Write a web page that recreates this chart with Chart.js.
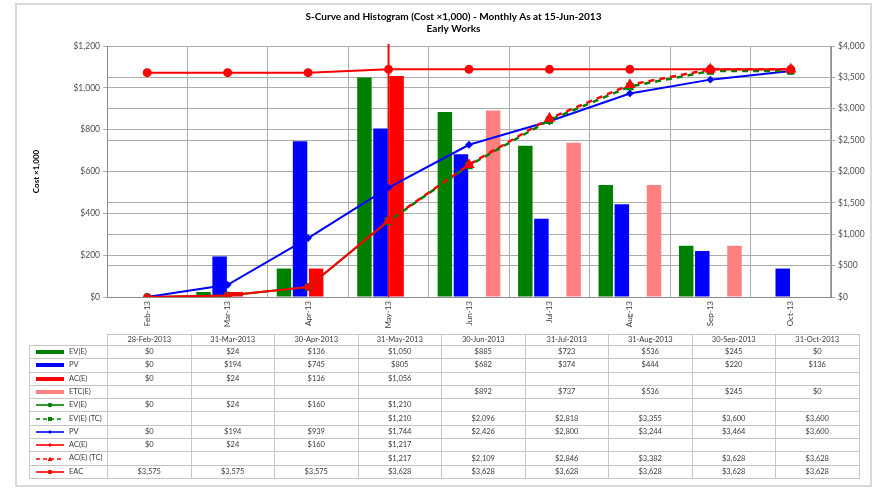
<!DOCTYPE html>
<html>
<head>
<meta charset="utf-8">
<script src="https://cdn.jsdelivr.net/npm/chart.js@4.4.0/dist/chart.umd.min.js"></script>
<style>
  html, body { margin: 0; padding: 0; background: #fff; }
  #wrap { position: relative; width: 877px; height: 489px; overflow: hidden; font-family: Lato, "Open Sans", sans-serif; }
  #frame { position: absolute; left: 15px; top: 3px; width: 857px; height: 484px; border: 2px solid #d9d9d9; box-sizing: border-box; }
  #chart { position: absolute; left: 0; top: 0; }
  table.data { position: absolute; left: 29px; top: 334px; border-collapse: collapse; table-layout: fixed; font-size: 7.5px; color: #3a3a3a; }
  table.data td { border: 1px solid #c6c6c6; padding: 0; text-align: center; white-space: nowrap; overflow: hidden; line-height: 10px; }
  table.data tr.head td { height: 10px; }
  table.data tr.row td { height: 12.3px; }
  table.data td.blank { border-top: none; border-left: none; }
  table.data td.key { text-align: left; padding-left: 3px; }
  table.data td.key svg { vertical-align: middle; margin-right: 2px; }
</style>
</head>
<body>
<div id="wrap">
  <div id="frame"></div>
  <canvas id="chart" width="877" height="335"></canvas>
  <table class="data" id="dataTable"></table>
</div>
<script>
// months on the x axis and the period end dates used in the table header
const months = ['Feb-13', 'Mar-13', 'Apr-13', 'May-13', 'Jun-13', 'Jul-13', 'Aug-13', 'Sep-13', 'Oct-13'];
const periodEnds = ['28-Feb-2013', '31-Mar-2013', '30-Apr-2013', '31-May-2013', '30-Jun-2013',
                    '31-Jul-2013', '31-Aug-2013', '30-Sep-2013', '31-Oct-2013'];

// monthly values (histogram, left axis)
const evMonthly  = [0, 24, 136, 1050, 885, 723, 536, 245, 0];
const pvMonthly  = [0, 194, 745, 805, 682, 374, 444, 220, 136];
const acMonthly  = [0, 24, 136, 1056, null, null, null, null, null];
const etcMonthly = [null, null, null, null, 892, 737, 536, 245, 0];

// cumulative values (S-curves, right axis)
const evCum   = [0, 24, 160, 1210, null, null, null, null, null];
const evCumTc = [null, null, null, 1210, 2096, 2818, 3355, 3600, 3600];
const pvCum   = [0, 194, 939, 1744, 2426, 2800, 3244, 3464, 3600];
const acCum   = [0, 24, 160, 1217, null, null, null, null, null];
const acCumTc = [null, null, null, 1217, 2109, 2846, 3382, 3628, 3628];
const eac     = [3575, 3575, 3575, 3628, 3628, 3628, 3628, 3628, 3628];

const dataDateIndex = 3; // last actuals month

const GREEN = '#008000', BLUE = '#0000ff', RED = '#ff0000', PINK = '#ff8080';
const FONT = 'Lato, "Open Sans", sans-serif';
const money = v => v === null || v === undefined ? '' : '$' + v.toLocaleString('en-US');

const lineBase = { type: 'line', yAxisID: 'y2', order: 0, borderWidth: 2, spanGaps: false, tension: 0 };

const datasets = [
  { ...lineBase, label: 'EAC', data: eac, borderColor: RED, backgroundColor: RED, pointStyle: 'circle', pointRadius: 3.5 },
  { ...lineBase, label: 'AC(E) (TC)', data: acCumTc, borderColor: RED, backgroundColor: RED, borderDash: [6, 5], borderWidth: 2.5, pointStyle: 'triangle', pointRadius: 4 },
  { ...lineBase, label: 'EV(E) (TC)', data: evCumTc, borderColor: GREEN, backgroundColor: GREEN, borderDash: [6, 5], borderDashOffset: 5, borderWidth: 2.5, pointStyle: 'rect', pointRadius: 3.5 },
  { ...lineBase, label: 'AC(E)', data: acCum, borderColor: RED, backgroundColor: RED, pointStyle: 'circle', pointRadius: 2.5 },
  { ...lineBase, label: 'PV', data: pvCum, borderColor: BLUE, backgroundColor: BLUE, pointStyle: 'rectRot', pointRadius: 2.5 },
  { ...lineBase, label: 'EV(E)', data: evCum, borderColor: GREEN, backgroundColor: GREEN, pointStyle: 'circle', pointRadius: 3 },
  { type: 'bar', label: 'EV(E)', data: evMonthly, backgroundColor: GREEN, yAxisID: 'y', order: 1 },
  { type: 'bar', label: 'PV', data: pvMonthly, backgroundColor: BLUE, yAxisID: 'y', order: 1 },
  { type: 'bar', label: 'AC(E)', data: acMonthly, backgroundColor: RED, yAxisID: 'y', order: 1 },
  { type: 'bar', label: 'ETC(E)', data: etcMonthly, backgroundColor: PINK, yAxisID: 'y', order: 1 }
];

const gridColor = '#adadad';
const tickFont = { family: FONT, size: 8.5 };

// vertical red line through the last actuals month
const dataDateLine = {
  id: 'dataDateLine',
  beforeDatasetsDraw(chart) {
    const { ctx, chartArea, scales } = chart;
    const x = scales.x.getPixelForValue(dataDateIndex);
    ctx.save();
    ctx.strokeStyle = RED;
    ctx.lineWidth = 2;
    ctx.beginPath();
    ctx.moveTo(x, chartArea.top - 2);
    ctx.lineTo(x, chartArea.bottom);
    ctx.stroke();
    ctx.restore();
  }
};

new Chart(document.getElementById('chart').getContext('2d'), {
  data: { labels: months, datasets },
  options: {
    responsive: false,
    animation: false,
    layout: { padding: { left: 30, right: 0, top: 0, bottom: 0 } },
    datasets: { bar: { categoryPercentage: 0.8, barPercentage: 0.9 } },
    plugins: {
      legend: { display: false },
      tooltip: { enabled: false },
      title: {
        display: true,
        text: ['S-Curve and Histogram (Cost \u00d71,000) - Monthly As at 15-Jun-2013', 'Early Works'],
        color: '#000',
        font: { family: FONT, size: 10, weight: 'bold', lineHeight: 1.15 },
        padding: { top: 11.3, bottom: 11.7 }
      }
    },
    scales: {
      x: {
        grid: { color: gridColor, drawTicks: false },
        border: { color: '#8c8c8c' },
        ticks: { minRotation: 90, maxRotation: 90, padding: 4, color: '#404040', font: { family: FONT, size: 8 } },
        afterFit(s) { s.height = 38; }
      },
      y: {
        position: 'left',
        min: 0, max: 1200,
        ticks: { stepSize: 200, padding: 3, color: '#505050', font: tickFont, callback: v => money(v) },
        grid: { color: gridColor, tickLength: 4 },
        border: { color: '#8c8c8c' },
        title: { display: true, text: 'Cost \u00d71,000', color: '#000', font: { family: FONT, size: 8, weight: 'bold' }, padding: { top: 2, bottom: 0 } },
        afterFit(s) { s.width = 77; }
      },
      y2: {
        position: 'right',
        min: 0, max: 4000,
        ticks: { stepSize: 500, padding: 3, color: '#505050', font: tickFont, callback: v => money(v) },
        grid: { color: gridColor, tickLength: 4 },
        border: { color: '#8c8c8c' },
        afterFit(s) { s.width = 46; }
      }
    }
  },
  plugins: [dataDateLine]
});

// data table under the chart
const tableRows = [
  { label: 'EV(E)', values: evMonthly, key: { bar: true, color: GREEN } },
  { label: 'PV', values: pvMonthly, key: { bar: true, color: BLUE } },
  { label: 'AC(E)', values: acMonthly, key: { bar: true, color: RED } },
  { label: 'ETC(E)', values: etcMonthly, key: { bar: true, color: PINK } },
  { label: 'EV(E)', values: evCum, key: { color: GREEN, marker: 'circle' } },
  { label: 'EV(E) (TC)', values: evCumTc, key: { color: GREEN, marker: 'square', dash: true } },
  { label: 'PV', values: pvCum, key: { color: BLUE, marker: 'diamond' } },
  { label: 'AC(E)', values: acCum, key: { color: RED, marker: 'diamond' } },
  { label: 'AC(E) (TC)', values: acCumTc, key: { color: RED, marker: 'triangle', dash: true } },
  { label: 'EAC', values: eac, key: { color: RED, marker: 'circle' } }
];

function keySvg(k) {
  let s = '';
  if (k.bar) {
    s = `<line x1="3" y1="5" x2="31" y2="5" stroke="${k.color}" stroke-width="4"/>`;
  } else {
    s = `<line x1="3" y1="5" x2="31" y2="5" stroke="${k.color}" stroke-width="1.6"${k.dash ? ' stroke-dasharray="4 3"' : ''}/>`;
    if (k.marker === 'circle') s += `<circle cx="17" cy="5" r="2.3" fill="${k.color}"/>`;
    if (k.marker === 'square') s += `<rect x="15" y="3" width="4" height="4" fill="${k.color}"/>`;
    if (k.marker === 'diamond') s += `<polygon points="17,3 19,5 17,7 15,5" fill="${k.color}"/>`;
    if (k.marker === 'triangle') s += `<polygon points="17,2.5 19.5,7 14.5,7" fill="${k.color}"/>`;
  }
  return `<svg width="34" height="10">${s}</svg>`;
}

const table = document.getElementById('dataTable');
let html = '<colgroup><col style="width:78px">' + months.map(() => '<col style="width:83.5px">').join('') + '</colgroup>';
html += '<tr class="head"><td class="blank"></td>' + periodEnds.map(d => `<td>${d}</td>`).join('') + '</tr>';
tableRows.forEach(r => {
  html += `<tr class="row"><td class="key">${keySvg(r.key)}${r.label}</td>` +
    r.values.map(v => `<td>${money(v)}</td>`).join('') + '</tr>';
});
table.innerHTML = html;
</script>
</body>
</html>
